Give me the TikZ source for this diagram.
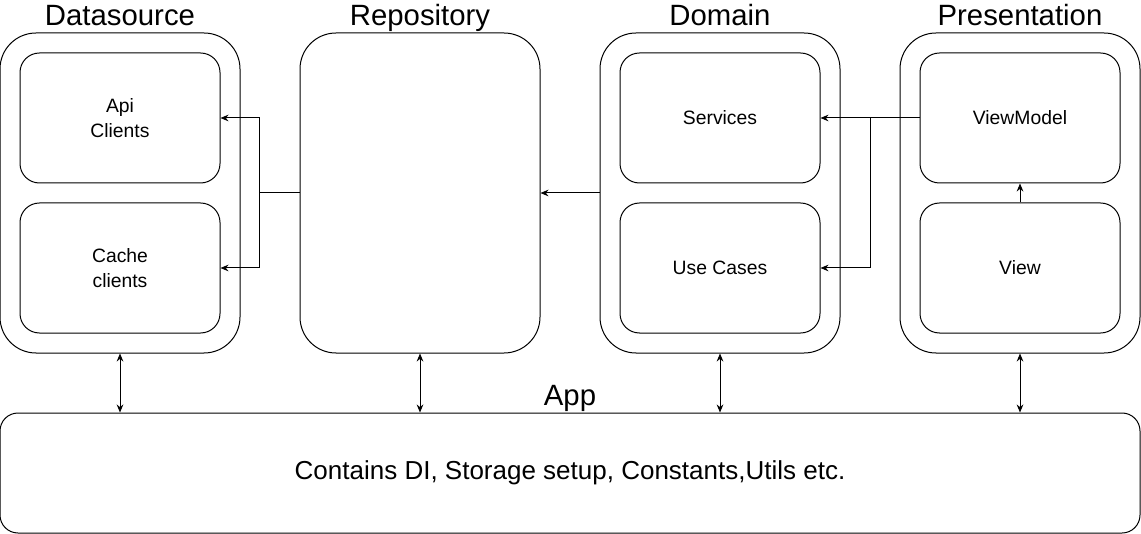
\documentclass[tikz,border=0pt]{standalone}
\usepackage{fontspec}
\setmainfont{Liberation Sans}
\usetikzlibrary{arrows.meta}

\tikzset{
  layer/.style={draw, rounded corners=27pt, minimum width=180pt,
    minimum height=240pt, inner sep=0pt},
  part/.style={draw, rounded corners=14.6pt, minimum width=150pt,
    minimum height=97.5pt, align=center, font=\fontsize{14.5}{18.5}\selectfont},
  title/.style={anchor=base, font=\fontsize{22}{24}\selectfont},
}

\begin{document}
\begin{tikzpicture}[x=0.75pt, y=-0.75pt, line width=0.75pt,
  >={Stealth[length=6pt, width=5pt]}]
  \useasboundingbox (0,0) rectangle (1141,534);

  % layers
  \node[layer] (source) at (120,193) {};
  \node[layer] (repo) at (420,193) {};
  \node[layer] (domain) at (720,193) {};
  \node[layer] (present) at (1020,193) {};
  \node[title] at (120,26) {Datasource};
  \node[title] at (420,26) {Repository};
  \node[title] at (720,26) {Domain};
  \node[title] at (1020,26) {Presentation};

  % parts
  \node[part] (api) at (120,118) {Api\\Clients};
  \node[part] (cache) at (120,268) {Cache\\clients};
  \node[part] (services) at (720,118) {Services};
  \node[part] (usecases) at (720,268) {Use Cases};
  \node[part] (viewmodel) at (1020,118) {ViewModel};
  \node[part] (view) at (1020,268) {View};

  % app
  \node[draw, rounded corners=13.5pt, minimum width=855pt, minimum height=90pt]
    (app) at (570,473) {};
  \node[anchor=base, font=\fontsize{19.5}{22}\selectfont] at (570,479)
    {Contains DI, Storage setup, Constants,Utils etc.};
  \node[title] at (570,405) {App};

  % links
  \draw (repo.west) -- ++(-40,0) coordinate (fork);
  \draw[->] (fork) |- (api.east);
  \draw[->] (fork) |- (cache.east);
  \draw[->] (domain.west) -- (repo.east);
  \draw[->] (viewmodel.west) -- (services.east);
  \coordinate (split) at (870,118);
  \draw[->] (split) |- (usecases.east);
  \draw[->] (view.north) -- (viewmodel.south);
  \draw[<->] (source.south) -- (source.south |- app.north);
  \draw[<->] (repo.south) -- (repo.south |- app.north);
  \draw[<->] (domain.south) -- (domain.south |- app.north);
  \draw[<->] (present.south) -- (present.south |- app.north);
\end{tikzpicture}
\end{document}
